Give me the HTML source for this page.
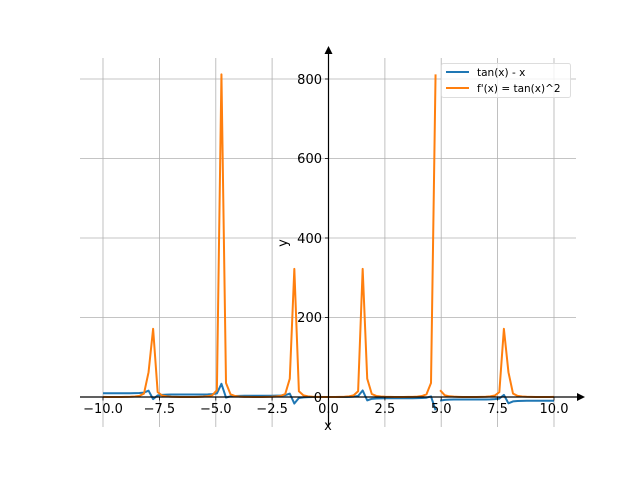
<!DOCTYPE html>
<html><head><meta charset="utf-8"><style>
body{margin:0;background:#fff}
svg text{font-family:"DejaVu Sans","Liberation Sans",sans-serif;font-size:13px;fill:#000}
</style></head><body>
<svg id="s" width="640" height="480" xmlns="http://www.w3.org/2000/svg">
<g stroke="#b0b0b0" stroke-width="0.8">
<line x1="103" y1="58" x2="103" y2="427"/><line x1="159.4" y1="58" x2="159.4" y2="427"/>
<line x1="215.8" y1="58" x2="215.8" y2="427"/><line x1="272.1" y1="58" x2="272.1" y2="427"/>
<line x1="328.5" y1="58" x2="328.5" y2="427"/><line x1="384.9" y1="58" x2="384.9" y2="427"/>
<line x1="441.2" y1="58" x2="441.2" y2="427"/><line x1="497.6" y1="58" x2="497.6" y2="427"/>
<line x1="554" y1="58" x2="554" y2="427"/>
<line x1="80" y1="397" x2="576" y2="397"/><line x1="80" y1="317.5" x2="576" y2="317.5"/>
<line x1="80" y1="238" x2="576" y2="238"/><line x1="80" y1="158.5" x2="576" y2="158.5"/>
<line x1="80" y1="79" x2="576" y2="79"/>
</g>
<g id="lines" fill="none" stroke-width="2" stroke-linejoin="round"></g>
<g stroke="#000" stroke-width="1.2">
<line x1="80" y1="397" x2="580" y2="397"/><line x1="328.5" y1="427" x2="328.5" y2="52"/>
</g>
<polygon points="585,397 577,393 577,401" fill="#000"/>
<polygon points="328.5,46 324.5,54 332.5,54" fill="#000"/>
<g stroke="#000" stroke-width="0.8">
<line x1="103" y1="397" x2="103" y2="400.5"/><line x1="159.4" y1="397" x2="159.4" y2="400.5"/>
<line x1="215.8" y1="397" x2="215.8" y2="400.5"/><line x1="272.1" y1="397" x2="272.1" y2="400.5"/>
<line x1="384.9" y1="397" x2="384.9" y2="400.5"/><line x1="441.2" y1="397" x2="441.2" y2="400.5"/>
<line x1="497.6" y1="397" x2="497.6" y2="400.5"/><line x1="554" y1="397" x2="554" y2="400.5"/>
<line x1="325" y1="317.5" x2="328.5" y2="317.5"/><line x1="325" y1="238" x2="328.5" y2="238"/>
<line x1="325" y1="158.5" x2="328.5" y2="158.5"/><line x1="325" y1="79" x2="328.5" y2="79"/>
</g>
<g text-anchor="middle">
<text x="103" y="413">−10.0</text><text x="159.4" y="413">−7.5</text>
<text x="215.8" y="413">−5.0</text><text x="272.1" y="413">−2.5</text>
<text x="328.5" y="413">0.0</text><text x="384.9" y="413">2.5</text>
<text x="441.2" y="413">5.0</text><text x="497.6" y="413">7.5</text>
<text x="554" y="413">10.0</text>
<text x="328" y="430">x</text>
</g>
<g text-anchor="end">
<text x="322" y="402">0</text><text x="322" y="322">200</text><text x="322" y="243">400</text>
<text x="322" y="163">600</text><text x="322" y="84">800</text>
</g>
<text x="0" y="0" transform="translate(287,243) rotate(-90)" text-anchor="middle">y</text>
<rect x="441.5" y="63.5" width="129" height="34" rx="2" fill="#fff" fill-opacity="0.8" stroke="#ddd"/>
<line x1="446" y1="72" x2="469" y2="72" stroke="#1f77b4" stroke-width="2"/>
<line x1="446" y1="88" x2="469" y2="88" stroke="#ff7f0e" stroke-width="2"/>
<text x="477" y="76" style="font-size:10.5px">tan(x) - x</text>
<text x="477" y="92" style="font-size:10.5px">f'(x) = tan(x)^2</text>
</svg>
<script>
var g=document.getElementById('lines');
function X(x){return 328.5+x*22.55}function Y(y){return 397-y*0.3975}
function mk(f,col){var segs=[[],[]];for(var i=0;i<100;i++){var x=-10+i*20/99;var y=f(x);(i<=73?segs[0]:segs[1]).push(X(x).toFixed(2)+','+Y(y).toFixed(2));}
segs.forEach(function(s){var p=document.createElementNS('http://www.w3.org/2000/svg','polyline');p.setAttribute('points',s.join(' '));p.setAttribute('stroke',col);g.appendChild(p);});}
mk(function(x){return Math.tan(x)-x},'#1f77b4');
mk(function(x){var t=Math.tan(x);return t*t},'#ff7f0e');
</script>
</body></html>
